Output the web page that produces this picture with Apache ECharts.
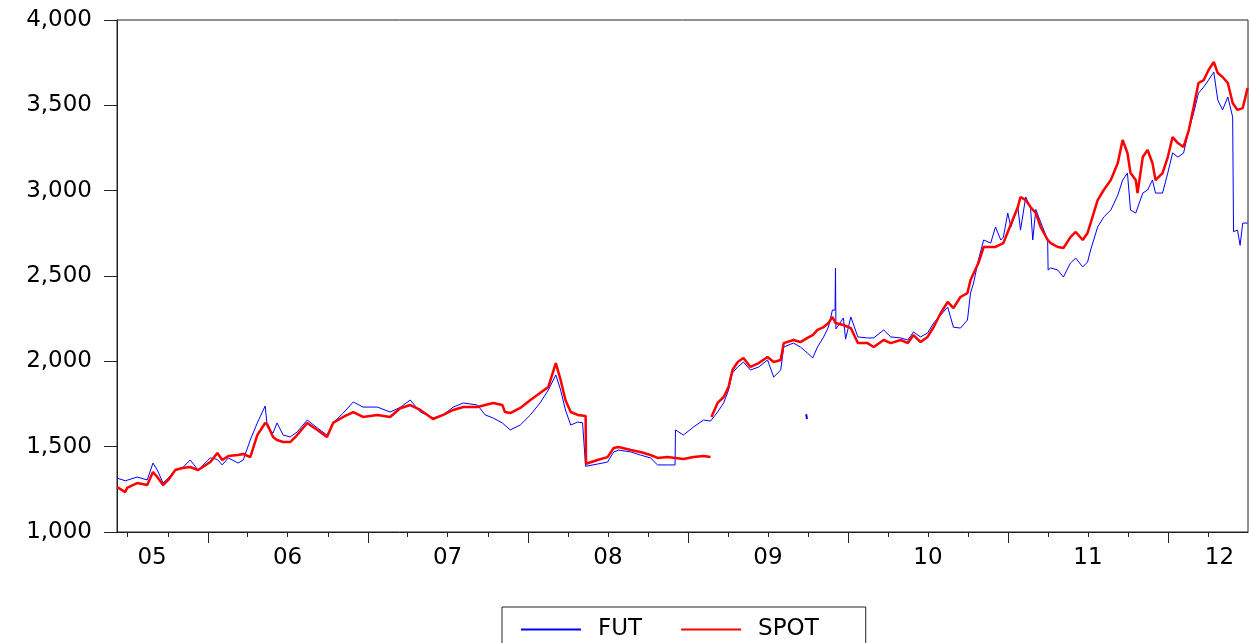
<!DOCTYPE html>
<html>
<head>
<meta charset="utf-8">
<script src="https://cdn.jsdelivr.net/npm/echarts@6/dist/echarts.min.js"></script>
<style>
html,body{margin:0;padding:0;background:#fff;}
#chart{width:1251px;height:643px;}
</style>
</head>
<body>
<div id="chart"></div>
<script>
// ---- data ----
const futDates = ['2005-06-07','2005-06-26','2005-06-30','2005-07-23','2005-08-15','2005-08-28','2005-09-07','2005-09-20','2005-10-02','2005-10-18','2005-11-03','2005-11-21','2005-12-09',
'2006-01-06','2006-01-22','2006-02-02','2006-02-16','2006-03-10','2006-03-22','2006-04-07','2006-04-23','2006-05-11','2006-05-16','2006-05-29','2006-06-07','2006-06-21','2006-07-07','2006-07-23','2006-08-15','2006-09-07','2006-09-29','2006-10-13','2006-11-05','2006-11-28','2006-12-20',
'2007-01-22','2007-02-20','2007-03-15','2007-04-07','2007-04-30','2007-05-29','2007-06-21','2007-07-14','2007-08-06','2007-09-07','2007-09-25','2007-10-13','2007-11-03','2007-11-21','2007-12-14',
'2008-01-06','2008-01-28','2008-02-16','2008-03-04','2008-03-15','2008-03-26','2008-04-07','2008-04-23','2008-05-04','2008-05-11','2008-06-07','2008-06-30','2008-07-14','2008-07-25','2008-08-22','2008-09-13','2008-10-06','2008-10-22','2008-11-14','2008-12-01','2008-12-02','2008-12-20',
'2009-01-12','2009-02-04','2009-02-20','2009-03-08','2009-03-22','2009-04-02','2009-04-11','2009-04-23','2009-05-06','2009-05-22','2009-06-10','2009-06-30','2009-07-14','2009-07-30','2009-08-06','2009-08-28','2009-09-13','2009-09-29','2009-10-11','2009-10-22','2009-11-05','2009-11-16','2009-11-25','2009-12-01','2009-12-02','2009-12-03','2009-12-07','2009-12-20','2009-12-25',
'2010-01-06','2010-01-22','2010-02-13','2010-02-27','2010-03-22','2010-04-07','2010-04-30','2010-05-16','2010-05-29','2010-06-14','2010-06-30','2010-07-14','2010-07-30','2010-08-15','2010-08-28','2010-09-13','2010-09-29','2010-10-06','2010-10-13','2010-10-24','2010-11-05','2010-11-21','2010-12-02','2010-12-14','2010-12-20','2010-12-30',
'2011-01-06','2011-01-22','2011-01-28','2011-02-09','2011-02-20','2011-02-25','2011-03-04','2011-03-15','2011-03-31','2011-04-01','2011-04-07','2011-04-23','2011-05-06','2011-05-22','2011-06-03','2011-06-19','2011-06-30','2011-07-07','2011-07-23','2011-08-06','2011-08-22','2011-09-07','2011-09-18','2011-09-29','2011-10-06','2011-10-18','2011-11-03','2011-11-14','2011-11-25','2011-12-02','2011-12-18','2011-12-30',
'2012-01-10','2012-01-22','2012-02-04','2012-02-16','2012-02-27','2012-03-09','2012-03-21','2012-04-01','2012-04-13','2012-04-22','2012-05-03','2012-05-15','2012-05-26','2012-05-28','2012-06-06','2012-06-12','2012-06-18','2012-06-29'];
const futValues = [1316,1300,1305,1322,1305,1404,1363,1287,1316,1363,1375,1422,1363,
1434,1425,1393,1434,1404,1422,1539,1639,1738,1615,1580,1639,1568,1557,1586,1656,1610,1568,1639,1697,1762,1732,
1732,1703,1730,1773,1703,1668,1686,1732,1756,1744,1686,1668,1639,1598,1627,
1686,1756,1832,1920,1832,1715,1627,1644,1640,1385,1398,1410,1469,1480,1469,1451,1434,1393,1393,1393,1598,1568,
1615,1656,1650,1703,1756,1832,1932,1967,1996,1949,1967,2008,1908,1949,2084,2107,2084,2049,2020,2084,2143,2201,2301,2300,2547,2190,2184,2254,2130,
2260,2143,2137,2137,2184,2143,2137,2125,2172,2143,2166,2225,2271,2318,2200,2195,2242,2400,2459,2594,2711,2693,2787,2711,2728,2869,
2787,2904,2769,2963,2898,2711,2890,2816,2711,2535,2547,2535,2494,2576,2605,2553,2582,2652,2787,2846,2886,2974,3062,3103,2886,2869,2986,3004,3062,2986,2986,3103,
3221,3197,3220,3355,3455,3572,3607,3648,3695,3531,3473,3549,3432,2760,2769,2680,2810,2810];
// isolated FUT observations (autumn 2009)
const futIsoDates = ['2009-09-26','2009-09-28'];
const futIsoValues = [1690,1662];

const spotDates = ['2005-06-07','2005-06-26','2005-06-30','2005-07-23','2005-08-15','2005-08-28','2005-09-07','2005-09-20','2005-10-02','2005-10-18','2005-11-03','2005-11-21','2005-12-09',
'2006-01-06','2006-01-22','2006-02-02','2006-02-16','2006-03-10','2006-03-22','2006-04-07','2006-04-23','2006-05-11','2006-05-16','2006-05-29','2006-06-07','2006-06-21','2006-07-07','2006-07-23','2006-08-15','2006-09-07','2006-09-29','2006-10-13','2006-11-05','2006-11-28','2006-12-20',
'2007-01-22','2007-02-20','2007-03-15','2007-04-07','2007-04-30','2007-05-29','2007-06-21','2007-07-14','2007-08-06','2007-09-07','2007-09-25','2007-10-13','2007-11-03','2007-11-09','2007-11-21','2007-12-14',
'2008-01-06','2008-01-28','2008-02-16','2008-03-04','2008-03-15','2008-03-26','2008-04-07','2008-04-23','2008-05-11','2008-05-12','2008-06-07','2008-06-30','2008-07-14','2008-07-25','2008-08-22','2008-09-13','2008-10-06','2008-10-22','2008-11-14','2008-12-02','2008-12-20',
'2009-01-12','2009-02-04','2009-02-20','2009-02-21','2009-02-22','2009-03-08','2009-03-22','2009-04-02','2009-04-11','2009-04-23','2009-05-06','2009-05-22','2009-06-10','2009-06-30','2009-07-14','2009-07-30','2009-08-06','2009-08-28','2009-09-13','2009-09-29','2009-10-11','2009-10-22','2009-11-05','2009-11-16','2009-11-25','2009-12-02','2009-12-20',
'2010-01-06','2010-01-22','2010-02-13','2010-02-27','2010-03-22','2010-04-07','2010-04-30','2010-05-16','2010-05-29','2010-06-14','2010-06-30','2010-07-14','2010-07-30','2010-08-15','2010-08-28','2010-09-13','2010-09-29','2010-10-06','2010-10-24','2010-11-05','2010-11-21','2010-12-02','2010-12-20','2010-12-30',
'2011-01-22','2011-01-28','2011-02-09','2011-02-20','2011-03-04','2011-03-15','2011-03-31','2011-04-07','2011-04-23','2011-05-06','2011-05-22','2011-06-03','2011-06-19','2011-06-30','2011-07-07','2011-07-23','2011-08-06','2011-08-22','2011-09-07','2011-09-18','2011-09-29','2011-10-06','2011-10-18','2011-10-22','2011-11-03','2011-11-14','2011-11-25','2011-12-02','2011-12-18','2011-12-30',
'2012-01-10','2012-01-22','2012-02-04','2012-02-16','2012-02-27','2012-03-09','2012-03-21','2012-04-01','2012-04-13','2012-04-22','2012-05-03','2012-05-15','2012-05-26','2012-06-06','2012-06-18','2012-06-29'];
const spotValues = [1264,1234,1258,1287,1275,1351,1322,1275,1305,1363,1375,1381,1363,
1410,1463,1422,1445,1451,1457,1439,1568,1639,1630,1557,1539,1527,1527,1568,1639,1598,1557,1639,1674,1703,1674,
1686,1674,1725,1744,1715,1662,1686,1715,1732,1732,1744,1756,1744,1703,1697,1727,
1773,1814,1850,1990,1891,1773,1703,1686,1680,1400,1422,1439,1492,1498,1480,1469,1451,1434,1439,1434,1428,
1439,1445,1440,null,1674,1756,1791,1850,1949,1996,2020,1967,1990,2025,1996,2008,2107,2125,2113,2137,2154,2184,2201,2225,2260,2225,2213,
2195,2107,2107,2084,2125,2107,2125,2107,2154,2113,2143,2201,2283,2348,2312,2377,2400,2476,2576,2670,2670,2670,2693,2758,
2904,2963,2945,2904,2869,2787,2711,2693,2670,2664,2728,2758,2711,2752,2810,2945,3004,3062,3162,3297,3221,3103,3062,2986,3197,3238,3162,3062,3103,3197,
3314,3279,3256,3355,3490,3631,3648,3707,3754,3689,3666,3631,3514,3473,3484,3601];

const yearLabels = ['05','06','07','08','09','10','11','12'];
const yearLabelDates = ['2005-08-26','2006-07-01','2007-07-01','2008-07-01','2009-07-01','2010-07-01','2011-07-01','2012-04-26'];
const axisStart = '2005-06-07';
const axisEnd = '2012-06-30';

// ---- build ----
function ts(s){ const p = s.split('-').map(Number); return Date.UTC(p[0], p[1]-1, p[2]); }
const pair = (ds, vs) => ds.map((d,i) => [ts(d), vs[i] === null ? '-' : vs[i]]);
const tMin = ts(axisStart), tMax = ts(axisEnd);
const quarterTicks = [], yearTicks = [];
for (let y = 2005; y <= 2012; y++) {
  for (let m = 0; m < 12; m += 3) {
    const t = Date.UTC(y, m, 1);
    if (t > tMin && t < tMax) { if (m === 0) yearTicks.push(t); else quarterTicks.push(t); }
  }
}
const labelTs = yearLabelDates.map(ts);
const labelMap = {};
labelTs.forEach((t, i) => { labelMap[t] = yearLabels[i]; });
const FONT = 'DejaVu Sans';
const FS = 23;

const chart = echarts.init(document.getElementById('chart'), null, {renderer:'canvas'});
chart.setOption({
  animation: false,
  backgroundColor: '#fff',
  grid: { left: 117, top: 20, right: 3, bottom: 111, show: true, borderColor: '#222', borderWidth: 1 },
  legend: {
    data: ['FUT','SPOT'], left: 502, top: 607, itemWidth: 60, itemHeight: 14, itemGap: 38,
    padding: [11, 47, 20, 18], borderColor: '#222', borderWidth: 1,
    itemStyle: { opacity: 0 },
    textStyle: { fontFamily: FONT, fontSize: FS, color: '#000', padding: [0,0,0,12] }
  },
  xAxis: [{
    type: 'value', min: tMin, max: tMax, position: 'bottom',
    axisLine: { show: true, lineStyle: { color: '#222', width: 1 } },
    axisTick: { show: true, length: 5, customValues: quarterTicks, lineStyle: { color: '#222' } },
    axisLabel: { show: true, customValues: labelTs, margin: 15, fontFamily: FONT, fontSize: FS, color: '#000',
      showMinLabel: true, showMaxLabel: true,
      formatter: v => labelMap[v] !== undefined ? labelMap[v] : '' },
    splitLine: { show: false }
  }, {
    type: 'value', min: tMin, max: tMax, position: 'bottom', gridIndex: 0,
    axisLine: { show: false },
    axisTick: { show: true, length: 11, customValues: yearTicks, lineStyle: { color: '#222' } },
    axisLabel: { show: false },
    splitLine: { show: false }
  }],
  yAxis: {
    type: 'value', min: 1000, max: 4000, interval: 500,
    axisLine: { show: true, lineStyle: { color: '#222', width: 1 } },
    axisTick: { show: true, length: 13, lineStyle: { color: '#222' } },
    axisLabel: { margin: 25, fontFamily: FONT, fontSize: FS, color: '#000',
      formatter: v => v.toLocaleString('en-US') },
    splitLine: { show: false }
  },
  series: [{
    name: 'FUT', type: 'line', xAxisIndex: 0, data: pair(futDates, futValues),
    symbol: 'none', lineStyle: { color: '#0000ff', width: 1 }, itemStyle: { color: '#0000ff' }, connectNulls: false
  }, {
    name: 'SPOT', type: 'line', xAxisIndex: 0, data: pair(spotDates, spotValues),
    symbol: 'none', lineStyle: { color: '#ff0000', width: 2.5 }, itemStyle: { color: '#ff0000' }, connectNulls: false
  }, {
    name: 'FUT', type: 'line', xAxisIndex: 0, data: pair(futIsoDates, futIsoValues),
    symbol: 'none', lineStyle: { color: '#0000ff', width: 2 }, itemStyle: { color: '#0000ff' }
  }]
});
</script>
</body>
</html>
